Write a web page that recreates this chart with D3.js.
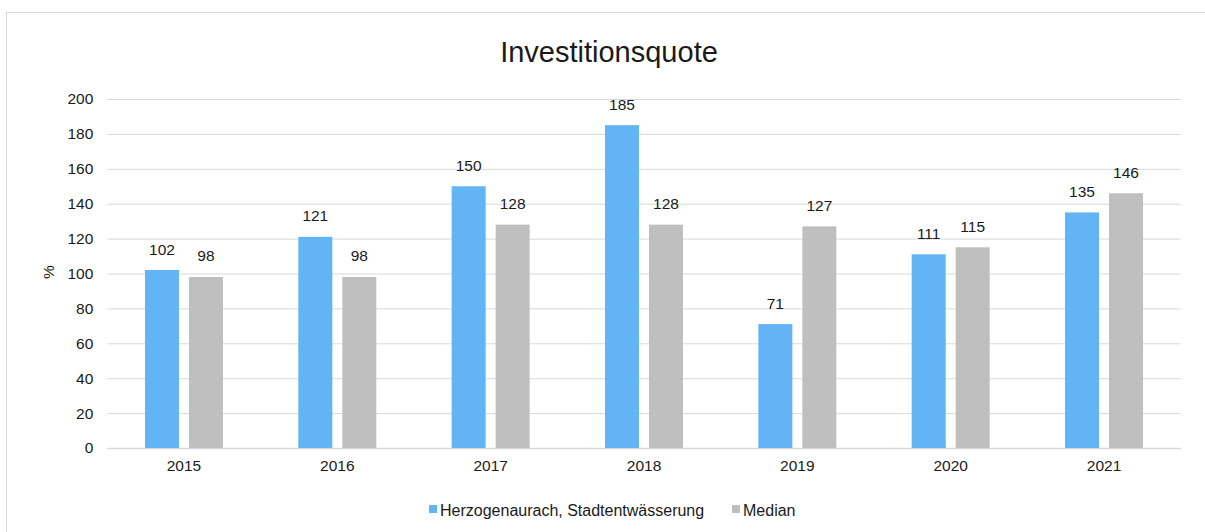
<!DOCTYPE html>
<html>
<head>
<meta charset="utf-8">
<script src="https://cdn.jsdelivr.net/npm/d3@7"></script>
<style>
  body { margin: 0; background: #fff; }
  svg { font-family: "Liberation Sans", Arial, sans-serif; }
</style>
</head>
<body>
<div id="chart"></div>
<script>
const years = ["2015", "2016", "2017", "2018", "2019", "2020", "2021"];
const herzogenaurach = [102, 121, 150, 185, 71, 111, 135];
const median = [98, 98, 128, 128, 127, 115, 146];
const seriesNames = ["Herzogenaurach, Stadtentwässerung", "Median"];
const seriesColors = ["#63b4f5", "#bfbfbf"];
const yTicks = [0, 20, 40, 60, 80, 100, 120, 140, 160, 180, 200];

const w = 1205, h = 532;
const plotLeft = 107.3, plotRight = 1180.7, plotTop = 99, plotBottom = 448;
const fs = 15.5;

const svg = d3.select("#chart").append("svg")
  .attr("width", w).attr("height", h);

// outer frame
svg.append("rect")
  .attr("x", 6.5).attr("y", 12.5)
  .attr("width", w + 10).attr("height", h + 10)
  .attr("fill", "none").attr("stroke", "#d9d9d9");

svg.append("text")
  .attr("x", 609).attr("y", 62)
  .attr("text-anchor", "middle")
  .attr("font-size", 29)
  .attr("fill", "#1a1a1a")
  .text("Investitionsquote");

const x = d3.scaleBand().domain(years).range([plotLeft, plotRight]);
const y = d3.scaleLinear().domain([0, 200]).range([plotBottom, plotTop]);

// gridlines
const yAxis = d3.axisLeft(y).tickValues(yTicks).tickSize(-(plotRight - plotLeft)).tickPadding(10);
const gy = svg.append("g").attr("transform", `translate(${plotLeft},0)`).call(yAxis);
gy.select(".domain").remove();
gy.selectAll(".tick line").attr("stroke", "#d9d9d9").attr("stroke-width", 1);
gy.selectAll(".tick text").attr("font-size", fs).attr("fill", "#1a1a1a").attr("x", -14)
  .attr("font-family", "Liberation Sans, Arial, sans-serif");

const xAxis = d3.axisBottom(x).tickSize(0).tickPadding(12);
const gx = svg.append("g").attr("transform", `translate(0,${plotBottom})`).call(xAxis);
gx.select(".domain").attr("stroke", "#d9d9d9").attr("stroke-width", 1.5);
gx.selectAll(".tick text").attr("font-size", fs).attr("fill", "#1a1a1a")
  .attr("font-family", "Liberation Sans, Arial, sans-serif");

svg.append("text")
  .attr("transform", "translate(54,272) rotate(-90)")
  .attr("text-anchor", "middle")
  .attr("font-size", fs)
  .attr("fill", "#1a1a1a")
  .text("%");

const barW = 34, innerGap = 10;
const series = [herzogenaurach, median];
series.forEach((vals, s) => {
  const offset = x.bandwidth() / 2 - (barW + innerGap / 2) + s * (barW + innerGap);
  const g = svg.append("g");
  g.selectAll("rect").data(vals).enter().append("rect")
    .attr("x", (d, i) => x(years[i]) + offset)
    .attr("y", d => y(d))
    .attr("width", barW)
    .attr("height", d => plotBottom - y(d))
    .attr("fill", seriesColors[s]);
  g.selectAll("text").data(vals).enter().append("text")
    .attr("x", (d, i) => x(years[i]) + offset + barW / 2)
    .attr("y", d => y(d) - 15.5)
    .attr("text-anchor", "middle")
    .attr("font-size", fs)
    .attr("fill", "#1a1a1a")
    .text(d => d);
});

// legend
const legendX = [429, 732];
seriesNames.forEach((name, i) => {
  svg.append("rect")
    .attr("x", legendX[i]).attr("y", 505)
    .attr("width", 8).attr("height", 8)
    .attr("fill", seriesColors[i]);
  svg.append("text")
    .attr("x", legendX[i] + 11).attr("y", 515.5)
    .attr("font-size", 16)
    .attr("fill", "#1a1a1a")
    .text(name);
});
</script>
</body>
</html>
